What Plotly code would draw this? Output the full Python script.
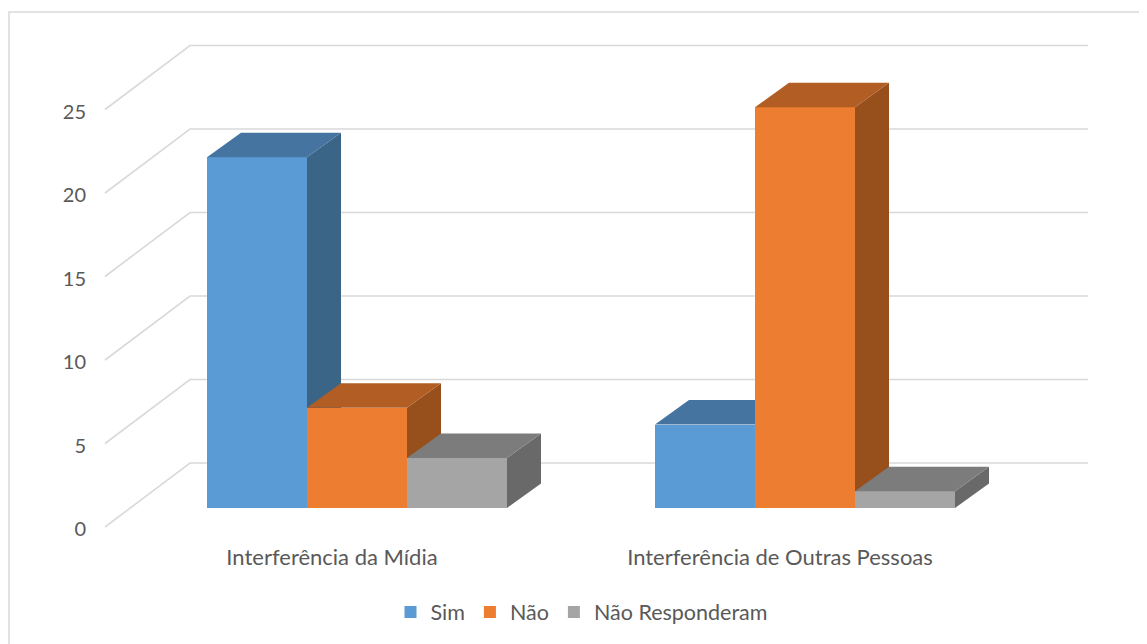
import plotly.graph_objects as go

categories = ["Interferência da Mídia", "Interferência de Outras Pessoas"]
series_names = ["Sim", "Não", "Não Responderam"]
sim = [21, 5]
nao = [6, 24]
nao_resp = [3, 1]
y_ticks = [0, 5, 10, 15, 20, 25]

front_colors = ["#5B9BD5", "#ED7D31", "#A5A5A5"]
top_colors = ["#44749F", "#B15D24", "#7C7C7C"]
side_colors = ["#3A6586", "#97501C", "#696969"]

PAGE_W, PAGE_H, BODY = 1147, 644, 8
L, R, T, B = 95, 1100, 20, 540
PX_CAT = 448.0
PX_UNIT = 16.7

def xr(center_px):
    return [(L - center_px) / PX_CAT, (R - center_px) / PX_CAT]

def yr(zero_px):
    return [(zero_px - B) / PX_UNIT, (zero_px - T) / PX_UNIT]

# front plane (axis labels) and bar plane
X_MAIN, Y_MAIN = xr(332), yr(527)
X_BAR, Y_BAR = xr(357), yr(508)

WALL_DX, WALL_DY = 85 / PX_CAT, 64 / PX_UNIT
BAR_DX, BAR_DY = 34 / PX_CAT, 24.5 / PX_UNIT
BAR_W = 100 / PX_CAT
X_END = (1088 - 332) / PX_CAT
X_WALL_LEFT = (105 - 332) / PX_CAT

fig = go.Figure()

# wall: diagonal + back gridline for every tick
for t in y_ticks:
    fig.add_trace(go.Scatter(
        x=[X_WALL_LEFT, X_WALL_LEFT + WALL_DX, X_END],
        y=[t, t + WALL_DY, t + WALL_DY],
        mode="lines", line=dict(color="#D9D9D9", width=1.6),
        showlegend=False, hoverinfo="skip"))

for i, (name, vals) in enumerate(zip(series_names, [sim, nao, nao_resp])):
    n = i + 2
    xa, ya = f"x{n}", f"y{n}"
    offset = -1.5 * BAR_W + i * BAR_W
    fig.add_trace(go.Bar(
        x=[0, 1], y=vals, name=name, xaxis=xa, yaxis=ya,
        width=BAR_W, offset=offset,
        marker=dict(color=front_colors[i], line=dict(width=0))))
    for c, v in enumerate(vals):
        x0 = c + offset
        x1 = x0 + BAR_W
        fig.add_trace(go.Scatter(
            x=[x1, x1, x1 + BAR_DX, x1 + BAR_DX, x1],
            y=[0, v, v + BAR_DY, BAR_DY, 0],
            mode="lines", fill="toself", fillcolor=side_colors[i],
            line=dict(width=0), xaxis=xa, yaxis=ya,
            showlegend=False, hoverinfo="skip"))
        fig.add_trace(go.Scatter(
            x=[x0, x0 + BAR_DX, x1 + BAR_DX, x1, x0],
            y=[v, v + BAR_DY, v + BAR_DY, v, v],
            mode="lines", fill="toself", fillcolor=top_colors[i],
            line=dict(width=0), xaxis=xa, yaxis=ya,
            showlegend=False, hoverinfo="skip"))

FAMILY = "Lato, Open Sans, sans-serif"
TEXT = "#595959"
font = dict(family=FAMILY, size=20, color=TEXT)
cat_font = dict(family=FAMILY, size=22, color=TEXT)
leg_font = dict(family=FAMILY, size=21.5, color=TEXT)

layout = dict(
    width=PAGE_W - BODY, height=PAGE_H - BODY, autosize=False,
    margin=dict(l=L - BODY, r=PAGE_W - R, t=T - BODY, b=PAGE_H - B, autoexpand=False, pad=0),
    paper_bgcolor="white", plot_bgcolor="rgba(0,0,0,0)",
    font=font, bargap=0,
    hovermode=False,
    xaxis=dict(range=X_MAIN, tickvals=[0, 1], ticktext=categories,
               showgrid=False, zeroline=False, showline=False, ticks="",
               tickfont=cat_font, ticklabelstandoff=2),
    yaxis=dict(range=Y_MAIN, tickvals=y_ticks, showgrid=False, zeroline=False,
               showline=False, ticks="", tickfont=font, ticklabelstandoff=8,
               ticklabelshift=2),
    legend=dict(orientation="h", x=(581.5 - L) / (R - L), xanchor="center",
                y=(B - 612) / (B - T), yanchor="middle",
                font=leg_font, itemwidth=30, traceorder="normal"),
    shapes=[dict(type="rect", xref="paper", yref="paper",
                 x0=(9 - L) / (R - L), x1=(1200 - L) / (R - L),
                 y0=(B - 700) / (B - T), y1=(B - 12) / (B - T),
                 line=dict(color="#D9D9D9", width=1.5), layer="below")],
)
for n in (2, 3, 4):
    layout[f"xaxis{n}"] = dict(range=X_BAR, overlaying="x", visible=False, anchor=f"y{n}")
    layout[f"yaxis{n}"] = dict(range=Y_BAR, overlaying="y", visible=False, anchor=f"x{n}")
fig.update_layout(**layout)

fig.write_html("out.html")
